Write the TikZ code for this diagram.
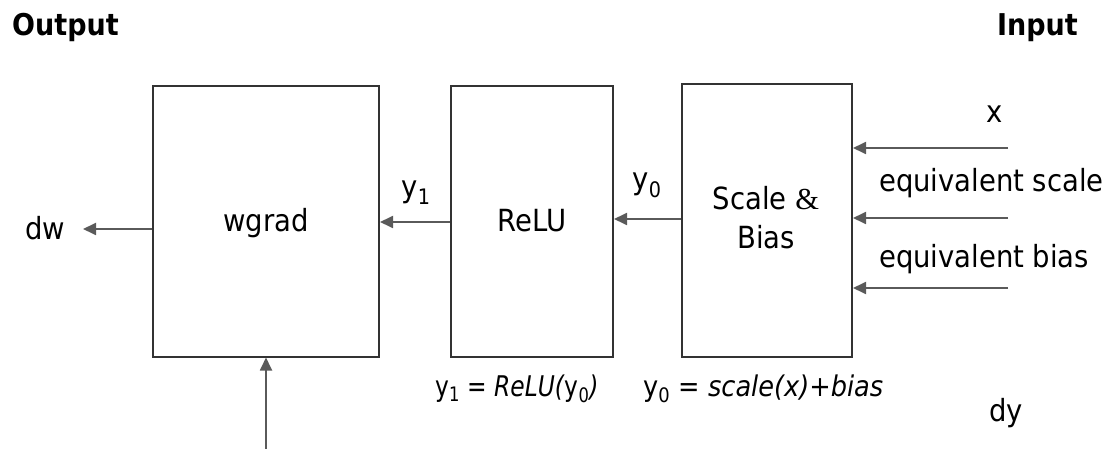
\documentclass[tikz,border=0pt]{standalone}
\usepackage{fontspec}
\setmainfont{DejaVu Sans Condensed}
\newfontfamily\ampfont{Liberation Serif}
\usetikzlibrary{arrows.meta}
\definecolor{boxline}{HTML}{333333}
\definecolor{arrline}{HTML}{5A5A5A}
\begin{document}
\begin{tikzpicture}[x=1pt,y=-1pt,
  blk/.style={draw=boxline,line width=2pt,inner sep=0pt},
  sig/.style={draw=arrline,line width=1.8pt,-{Triangle[length=13pt,width=12pt]}},
  lbl/.style={font=\fontsize{30.5}{36}\selectfont,inner sep=0pt},
  eqs/.style={font=\fontsize{28.5}{34}\selectfont,inner sep=0pt},
  hdr/.style={font=\fontsize{30}{36}\selectfont\bfseries,inner sep=0pt}]
\useasboundingbox (0,0) rectangle (1114,449);
% headers
\node[hdr,anchor=base west] (out) at (12,36) {Output};
\node[hdr,anchor=base east] (in) at (1078,36) {Input};
% blocks
\node[blk,minimum width=226pt,minimum height=270pt] (wg) at (266,221.5) {};
\node[blk,minimum width=162pt,minimum height=270pt] (relu) at (532,221.5) {};
\node[blk,minimum width=170pt,minimum height=272pt] (sb) at (767,220.5) {};
\node[lbl,anchor=base] (wgt) at (266,232) {wgrad};
\node[lbl,anchor=base] (relut) at (532,232) {ReLU};
\node[lbl,anchor=base] (sbt1) at (766,210) {Scale {\ampfont\&}};
\node[lbl,anchor=base] (sbt2) at (766,249) {Bias};
% dw
\coordinate (dwend) at (83,229);
\draw[sig] (wg.west |- dwend) -- (dwend);
\node[lbl,anchor=base west] (dw) at (25,240) {dw};
% y1
\draw[sig] (relu.west |- 0,222) -- (wg.east |- 0,222);
\node[lbl,anchor=base] (y1) at (416,198) {y\textsubscript{1}};
% y0
\draw[sig] (sb.west |- 0,219) -- (relu.east |- 0,219);
\node[lbl,anchor=base] (y0) at (647,190) {y\textsubscript{0}};
% inputs
\coordinate (i1) at (1008,148);
\coordinate (i2) at (1008,218);
\coordinate (i3) at (1008,288);
\draw[sig] (i1) -- (sb.east |- i1);
\draw[sig] (i2) -- (sb.east |- i2);
\draw[sig] (i3) -- (sb.east |- i3);
\node[lbl,anchor=base] (x) at (995,123) {x};
\node[lbl,anchor=base west] (es) at (879,192) {equivalent scale};
\node[lbl,anchor=base west] (eb) at (879,267) {equivalent bias};
% bottom
\coordinate (bot) at (266,449);
\draw[sig] (bot) -- (bot |- wg.south);
\node[eqs,anchor=base west] (eq1) at (435,396) {\scalebox{0.91}[1]{y\textsubscript{1} = \textit{ReLU(}y\textsubscript{0}\textit{)}}};
\node[eqs,anchor=base west] (eq2) at (643,396) {y\textsubscript{0} = \textit{scale(x)+bias}};
\node[lbl,anchor=base] (dy) at (1006,421) {dy};
\end{tikzpicture}
\end{document}
